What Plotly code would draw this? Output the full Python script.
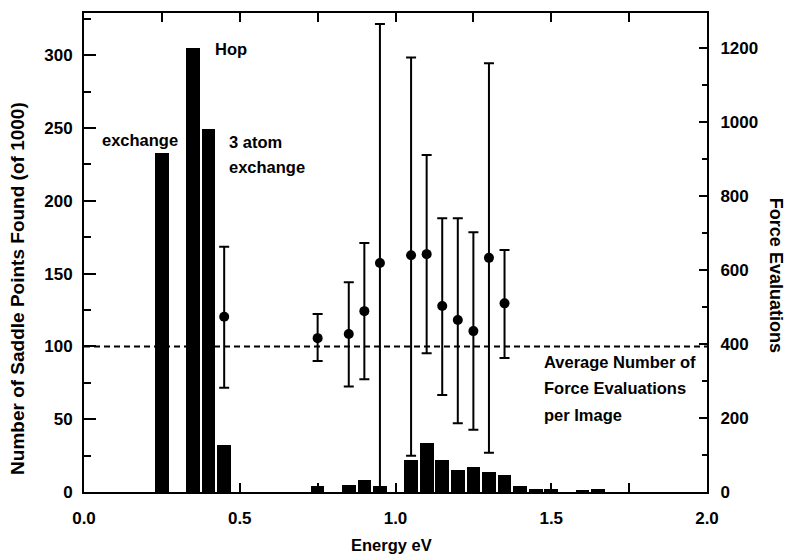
import plotly.graph_objects as go

# Histogram of saddle point energies (left axis)
bar_energy = [0.25, 0.35, 0.40, 0.45, 0.75, 0.85, 0.90, 0.95, 1.05, 1.10,
              1.15, 1.20, 1.25, 1.30, 1.35, 1.40, 1.45, 1.50, 1.60, 1.65]
bar_count = [233, 305, 249, 32, 4, 5, 8, 4, 22, 34,
             22, 15, 17, 14, 12, 4, 2, 2, 1, 2]

# Force evaluations (right axis) with ranges
pt_energy = [0.45, 0.75, 0.85, 0.90, 0.95, 1.05, 1.10, 1.15, 1.20, 1.25, 1.30, 1.35]
pt_mean = [474, 416, 427, 489, 619, 640, 643, 503, 465, 435, 633, 510]
pt_upper = [663, 481, 567, 673, 1265, 1175, 911, 740, 740, 702, 1159, 654]
pt_lower = [282, 354, 285, 305, 10, 98, 375, 262, 186, 168, 106, 362]

avg_saddle_line = 100

x_ticks = [0.0, 0.5, 1.0, 1.5, 2.0]
y_ticks = [0, 50, 100, 150, 200, 250, 300]
y2_ticks = [0, 200, 400, 600, 800, 1000, 1200]

FONT = "Liberation Sans, Arial, Helvetica, sans-serif"

err_plus = [u - m for u, m in zip(pt_upper, pt_mean)]
err_minus = [m - l for m, l in zip(pt_mean, pt_lower)]

fig = go.Figure()
fig.add_trace(go.Bar(
    x=bar_energy, y=bar_count, width=0.044,
    marker=dict(color="black", line=dict(width=0)),
    yaxis="y", showlegend=False,
))
fig.add_trace(go.Scatter(
    x=pt_energy, y=pt_mean, mode="markers",
    marker=dict(color="black", size=10, symbol="circle"),
    error_y=dict(type="data", symmetric=False, array=err_plus, arrayminus=err_minus,
                 color="black", thickness=2, width=5),
    yaxis="y2", showlegend=False,
))

fig.add_shape(type="line", xref="paper", x0=0, x1=1, yref="y",
              y0=avg_saddle_line, y1=avg_saddle_line,
              line=dict(color="black", width=2, dash="6px,4px"))

tickfont = dict(family=FONT, size=17, color="black", weight="bold")

fig.update_layout(
    width=789, height=554,
    margin=dict(l=84, r=82, t=13, b=62),
    paper_bgcolor="white", plot_bgcolor="white",
    bargap=0,
    xaxis=dict(
        range=[0, 2], tickvals=x_ticks, tickformat=".1f",
        showline=True, linecolor="black", linewidth=2, mirror="allticks",
        ticks="inside", ticklen=9, tickwidth=2, tickcolor="black",
        minor=dict(dtick=0.25, ticks="inside", ticklen=8, tickwidth=2, tickcolor="black"),
        showgrid=False, zeroline=False, tickfont=tickfont, ticklabelstandoff=10,
    ),
    yaxis=dict(
        range=[0, 329], tickvals=y_ticks,
        showline=True, linecolor="black", linewidth=2,
        ticks="inside", ticklen=12, tickwidth=2, tickcolor="black",
        minor=dict(dtick=25, ticks="inside", ticklen=7, tickwidth=2, tickcolor="black"),
        showgrid=False, zeroline=False, tickfont=tickfont, ticklabelstandoff=6,
    ),
    yaxis2=dict(
        range=[0, 1295], tickvals=y2_ticks, overlaying="y", side="right",
        showline=True, linecolor="black", linewidth=2,
        ticks="inside", ticklen=8, tickwidth=2, tickcolor="black",
        minor=dict(dtick=100, ticks="inside", ticklen=5, tickwidth=2, tickcolor="black"),
        showgrid=False, zeroline=False, tickfont=tickfont, ticklabelstandoff=8,
    ),
)

def label(text, x, y, xanchor="left", size=16.5, xref="x", yref="y", angle=0):
    fig.add_annotation(text=text, x=x, y=y, xref=xref, yref=yref,
                       xanchor=xanchor, yanchor="middle", showarrow=False,
                       textangle=angle,
                       font=dict(family=FONT, size=size, color="black", weight="bold"))

label("Hop", 0.414, 304)
label("exchange", 0.308, 241.6, xanchor="right")
label("3 atom", 0.459, 240.3)
label("exchange", 0.459, 223.1)
label("Average Number of", 1.470, 89.2)
label("Force Evaluations", 1.470, 71.4)
label("per Image", 1.470, 52.9)

# Axis titles
label("Number of Saddle Points Found (of 1000)", -0.106, 0.426, xanchor="center",
      size=19, xref="paper", yref="paper", angle=-90)
label("Force Evaluations", 1.111, 0.453, xanchor="center",
      size=18, xref="paper", yref="paper", angle=90)
label("Energy eV", 0.494, -0.111, xanchor="center", size=16.5,
      xref="paper", yref="paper")

fig.write_html("out.html")
